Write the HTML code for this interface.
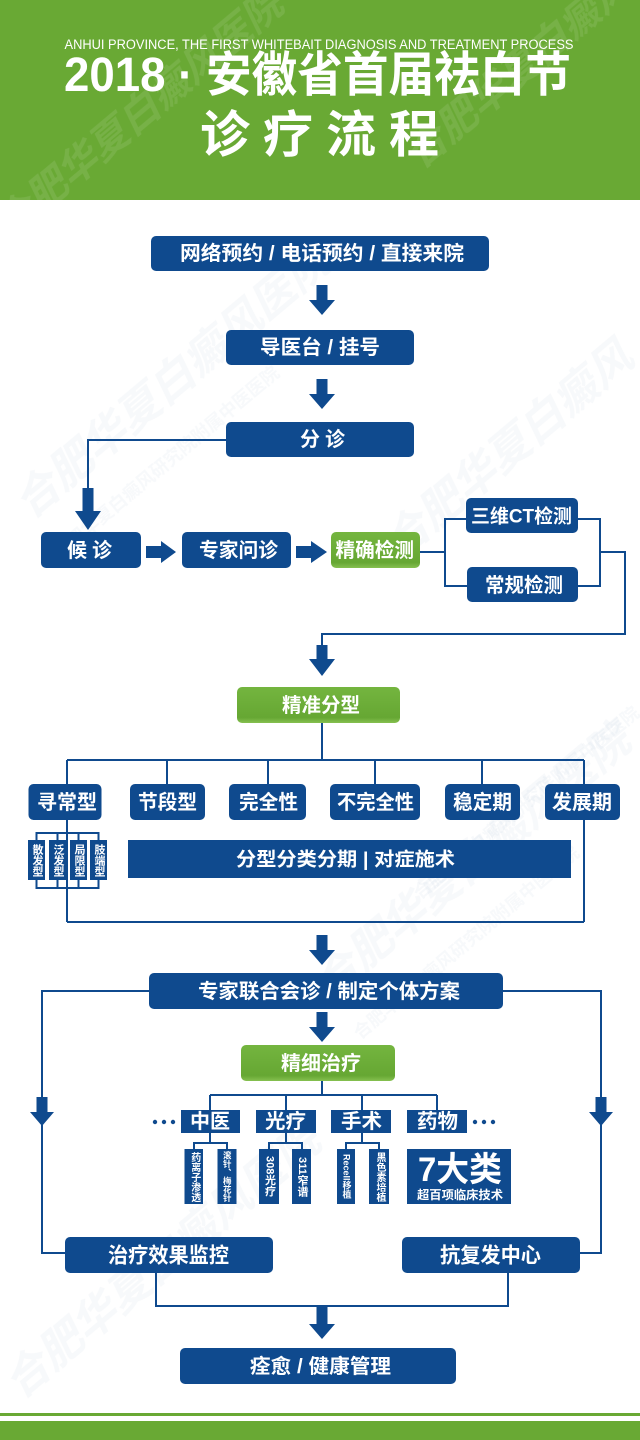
<!DOCTYPE html>
<html><head><meta charset="utf-8">
<style>
html,body{margin:0;padding:0;background:#fff;}
#wrap{position:relative;width:640px;height:1440px;overflow:hidden;font-family:"Liberation Sans","Noto Sans CJK SC",sans-serif;}
svg{position:absolute;left:0;top:0;}
.v{position:absolute;display:flex;align-items:center;justify-content:center;writing-mode:vertical-rl;color:#fff;font-weight:bold;line-height:1;font-family:"Liberation Sans","Noto Sans CJK SC",sans-serif;}
</style></head>
<body><div id="wrap">
<svg width="640" height="1440" viewBox="0 0 640 1440" xmlns="http://www.w3.org/2000/svg" font-family="Liberation Sans, Noto Sans CJK SC, sans-serif" font-weight="bold">
<defs>
<linearGradient id="gr" x1="0" y1="0" x2="0" y2="1">
<stop offset="0" stop-color="#74b53f"/><stop offset="0.85" stop-color="#66a733"/><stop offset="1" stop-color="#86c050"/>
</linearGradient>
</defs>
<!-- header -->
<rect x="0" y="0" width="640" height="200" fill="#69a934"/>
<g fill="#ffffff" opacity="0.10" font-size="40" font-style="italic">
<text x="0" y="0" transform="translate(10,240) rotate(-40)">合肥华夏白癜风医院</text>
<text x="0" y="0" transform="translate(420,170) rotate(-40)">合肥华夏白癜风</text>
</g>
<text x="64.5" y="49" font-size="13.5" font-weight="normal" fill="#fff" textLength="509" lengthAdjust="spacingAndGlyphs">ANHUI PROVINCE, THE FIRST WHITEBAIT DIAGNOSIS AND TREATMENT PROCESS</text>
<text x="64" y="91" font-size="48" fill="#fff" textLength="507" lengthAdjust="spacingAndGlyphs">2018 · 安徽省首届祛白节</text>
<text x="200" y="152" font-size="50" fill="#fff" textLength="239" lengthAdjust="spacing">诊疗流程</text>

<!-- faint watermarks on body -->
<g fill="#5a7aa0" opacity="0.05" font-size="44" font-style="italic">
<text transform="translate(30,520) rotate(-40)">合肥华夏白癜风医院</text>
<text transform="translate(330,1000) rotate(-40)">合肥华夏白癜风医院</text>
<text transform="translate(20,1400) rotate(-40)">合肥华夏白癜风医院</text>
<text transform="translate(400,560) rotate(-40)">合肥华夏白癜风</text>
</g>
<g fill="#5a7aa0" opacity="0.05" font-size="18">
<text transform="translate(60,560) rotate(-40)">合肥华夏白癜风研究院附属中医医院</text>
<text transform="translate(360,1040) rotate(-40)">合肥华夏白癜风研究院附属中医医院</text>
<text transform="translate(420,900) rotate(-40)">合肥华夏白癜风研究院附属中医医院</text>
</g>

<!-- connector lines -->
<g stroke="#0f4a8e" stroke-width="2" fill="none">
<polyline points="226,440 88,440 88,490"/>
<polyline points="420,552 445,552"/>
<polyline points="466,519 445,519 445,586 467,586"/>
<polyline points="578,519 600,519 600,586 578,586"/>
<polyline points="600,552 625,552 625,634 322,634 322,646"/>
<polyline points="322,722 322,760"/>
<polyline points="67,760 584,760"/>
<line x1="67" y1="760" x2="67" y2="922"/>
<line x1="584" y1="760" x2="584" y2="922"/>
<line x1="67" y1="922" x2="584" y2="922"/>
<line x1="167" y1="760" x2="167" y2="784"/>
<line x1="268" y1="760" x2="268" y2="784"/>
<line x1="375" y1="760" x2="375" y2="784"/>
<line x1="482" y1="760" x2="482" y2="784"/>
<polyline points="36.5,841 36.5,833 98.5,833 98.5,841"/>
<line x1="57.5" y1="833" x2="57.5" y2="841"/>
<line x1="78.5" y1="833" x2="78.5" y2="841"/>
<polyline points="36.5,879 36.5,888 98.5,888 98.5,879"/>
<line x1="57.5" y1="888" x2="57.5" y2="879"/>
<line x1="78.5" y1="888" x2="78.5" y2="879"/>
<polyline points="149,991 42,991 42,1098"/>
<polyline points="42,1124 42,1253 66,1253"/>
<polyline points="503,991 601,991 601,1098"/>
<polyline points="601,1124 601,1253 579,1253"/>
<polyline points="322,1081 322,1095"/>
<line x1="210" y1="1095" x2="437" y2="1095"/>
<line x1="210" y1="1095" x2="210" y2="1111"/>
<line x1="286" y1="1095" x2="286" y2="1111"/>
<line x1="362" y1="1095" x2="362" y2="1111"/>
<line x1="437" y1="1095" x2="437" y2="1111"/>
<polyline points="210,1133 210,1143"/>
<polyline points="194,1150 194,1143 227,1143 227,1150"/>
<polyline points="286,1133 286,1143"/>
<polyline points="269,1150 269,1143 302,1143 302,1150"/>
<polyline points="362,1133 362,1143"/>
<polyline points="346,1150 346,1143 379,1143 379,1150"/>
<polyline points="156,1272 156,1306 508,1306 508,1272"/>
</g>

<!-- arrows -->
<g fill="#0f4a8e">
<path d="M316.5 285 H327.5 V300 H335 L322 315 L309 300 H316.5 Z"/>
<path d="M316.5 379 H327.5 V394 H335 L322 409 L309 394 H316.5 Z"/>
<path d="M82.5 488 H93.5 V511 H101 L88 530 L75 511 H82.5 Z"/>
<path d="M146 546 H161 V541 L176 552 L161 563 V558 H146 Z"/>
<path d="M296 546 H311 V541 L327 552 L311 563 V558 H296 Z"/>
<path d="M316.5 645 H327.5 V659 H335 L322 676 L309 659 H316.5 Z"/>
<path d="M316.5 935 H327.5 V950 H335 L322 965 L309 950 H316.5 Z"/>
<path d="M316.5 1012 H327.5 V1027 H335 L322 1042 L309 1027 H316.5 Z"/>
<path d="M36.5 1097 H47.5 V1112 H54 L42 1126 L30 1112 H36.5 Z"/>
<path d="M595.5 1097 H606.5 V1112 H613 L601 1126 L589 1112 H595.5 Z"/>
<path d="M316.5 1306 H327.5 V1324 H335 L322 1339 L309 1324 H316.5 Z"/>
</g>

<!-- blue boxes -->
<g fill="#0f4a8e">
<rect x="151" y="236" width="338" height="35" rx="5"/>
<rect x="226" y="330" width="188" height="35" rx="5"/>
<rect x="226" y="422" width="188" height="35" rx="5"/>
<rect x="41" y="532" width="100" height="36" rx="5"/>
<rect x="182" y="532" width="109" height="36" rx="5"/>
<rect x="466" y="498" width="112" height="35" rx="5"/>
<rect x="467" y="567" width="111" height="35" rx="5"/>
<rect x="28.5" y="784" width="73" height="36" rx="5"/>
<rect x="130" y="784" width="75" height="36" rx="5"/>
<rect x="229" y="784" width="77" height="36" rx="5"/>
<rect x="330" y="784" width="90" height="36" rx="5"/>
<rect x="445" y="784" width="75" height="36" rx="5"/>
<rect x="545" y="784" width="75" height="36" rx="5"/>
<rect x="28" y="840" width="17" height="40"/>
<rect x="49" y="840" width="17" height="40"/>
<rect x="70" y="840" width="17" height="40"/>
<rect x="90" y="840" width="17" height="40"/>
<rect x="128" y="840" width="443" height="38"/>
<rect x="149" y="973" width="354" height="36" rx="5"/>
<rect x="181" y="1110" width="59" height="23"/>
<rect x="256" y="1110" width="60" height="23"/>
<rect x="331" y="1110" width="60" height="23"/>
<rect x="407" y="1110" width="60" height="23"/>
<rect x="184.5" y="1149" width="18.5" height="55"/>
<rect x="217.5" y="1149" width="19" height="55"/>
<rect x="259" y="1149" width="20" height="55"/>
<rect x="292" y="1149" width="19" height="55"/>
<rect x="337" y="1149" width="18" height="55"/>
<rect x="369" y="1149" width="20" height="55"/>
<rect x="407" y="1149" width="104" height="55"/>
<rect x="65" y="1237" width="208" height="36" rx="5"/>
<rect x="402" y="1237" width="178" height="36" rx="5"/>
<rect x="180" y="1348" width="276" height="36" rx="5"/>
</g>
<!-- green boxes -->
<g fill="url(#gr)">
<rect x="331" y="532" width="89" height="36" rx="5"/>
<rect x="237" y="687" width="163" height="36" rx="5"/>
<rect x="241" y="1045" width="154" height="36" rx="5"/>
</g>

<!-- labels -->
<g fill="#fff" dominant-baseline="central">
<text x="180" y="254" font-size="20" textLength="284" lengthAdjust="spacingAndGlyphs">网络预约 / 电话预约 / 直接来院</text>
<text x="260" y="348" font-size="20" textLength="120" lengthAdjust="spacingAndGlyphs">导医台 / 挂号</text>
<text x="300" y="440" font-size="20" textLength="45" lengthAdjust="spacing">分 诊</text>
<text x="67" y="551" font-size="20" textLength="45" lengthAdjust="spacing">候 诊</text>
<text x="199" y="551" font-size="20" textLength="79" lengthAdjust="spacingAndGlyphs">专家问诊</text>
<text x="335.5" y="551" font-size="20" textLength="78.5" lengthAdjust="spacingAndGlyphs">精确检测</text>
<text x="471" y="517" font-size="19" textLength="101" lengthAdjust="spacingAndGlyphs">三维CT检测</text>
<text x="485" y="586" font-size="20" textLength="78" lengthAdjust="spacingAndGlyphs">常规检测</text>
<text x="282" y="706" font-size="20" textLength="78" lengthAdjust="spacingAndGlyphs">精准分型</text>
<text x="37" y="803" font-size="20" textLength="60" lengthAdjust="spacingAndGlyphs">寻常型</text>
<text x="138" y="803" font-size="20" textLength="59" lengthAdjust="spacingAndGlyphs">节段型</text>
<text x="239" y="803" font-size="20" textLength="59" lengthAdjust="spacingAndGlyphs">完全性</text>
<text x="337" y="803" font-size="20" textLength="77" lengthAdjust="spacingAndGlyphs">不完全性</text>
<text x="453" y="803" font-size="20" textLength="59" lengthAdjust="spacingAndGlyphs">稳定期</text>
<text x="552" y="803" font-size="20" textLength="60" lengthAdjust="spacingAndGlyphs">发展期</text>
<text x="236" y="860" font-size="19" textLength="219" lengthAdjust="spacingAndGlyphs">分型分类分期 | 对症施术</text>
<text x="198" y="992" font-size="20" textLength="262" lengthAdjust="spacingAndGlyphs">专家联合会诊 / 制定个体方案</text>
<text x="281" y="1064" font-size="20" textLength="80" lengthAdjust="spacingAndGlyphs">精细治疗</text>
<text x="190" y="1122" font-size="20" textLength="40" lengthAdjust="spacingAndGlyphs">中医</text>
<text x="265" y="1122" font-size="20" textLength="41" lengthAdjust="spacingAndGlyphs">光疗</text>
<text x="341" y="1122" font-size="20" textLength="41" lengthAdjust="spacingAndGlyphs">手术</text>
<text x="417" y="1122" font-size="20" textLength="41" lengthAdjust="spacingAndGlyphs">药物</text>
<text x="418" y="1170" font-size="34" textLength="84" lengthAdjust="spacingAndGlyphs">7大类</text>
<text x="417" y="1195" font-size="12" textLength="86" lengthAdjust="spacingAndGlyphs">超百项临床技术</text>
<text x="108" y="1256" font-size="21" textLength="121" lengthAdjust="spacingAndGlyphs">治疗效果监控</text>
<text x="440" y="1256" font-size="21" textLength="101" lengthAdjust="spacingAndGlyphs">抗复发中心</text>
<text x="250" y="1367" font-size="20" textLength="141" lengthAdjust="spacingAndGlyphs">痊愈 / 健康管理</text>
</g>
<!-- dots -->
<g fill="#0f4a8e">
<circle cx="155" cy="1122" r="2.2"/><circle cx="164" cy="1122" r="2.2"/><circle cx="173" cy="1122" r="2.2"/>
<circle cx="475" cy="1122" r="2.2"/><circle cx="484" cy="1122" r="2.2"/><circle cx="493" cy="1122" r="2.2"/>
</g>

<!-- footer -->
<rect x="0" y="1413" width="640" height="3" fill="#69a934"/>
<rect x="0" y="1421" width="640" height="19" fill="#69a934"/>
</svg>

<!-- vertical labels -->
<div class="v" style="left:28px;top:840px;width:17px;height:40px;font-size:11px;">散发型</div>
<div class="v" style="left:49px;top:840px;width:17px;height:40px;font-size:11px;">泛发型</div>
<div class="v" style="left:70px;top:840px;width:17px;height:40px;font-size:11px;">局限型</div>
<div class="v" style="left:90px;top:840px;width:17px;height:40px;font-size:11px;">肢端型</div>
<div class="v" style="left:184.5px;top:1149px;width:18.5px;height:55px;font-size:10px;">药离子渗透</div>
<div class="v" style="left:217.5px;top:1149px;width:19px;height:55px;font-size:8.5px;">滚针、梅花针</div>
<div class="v" style="left:259px;top:1149px;width:20px;height:55px;font-size:11px;">308光疗</div>
<div class="v" style="left:292px;top:1149px;width:19px;height:55px;font-size:11px;">311窄谱</div>
<div class="v" style="left:337px;top:1149px;width:18px;height:55px;font-size:9px;">Recell移植</div>
<div class="v" style="left:369px;top:1149px;width:20px;height:55px;font-size:10px;">黑色素培植</div>
</div></body></html>
